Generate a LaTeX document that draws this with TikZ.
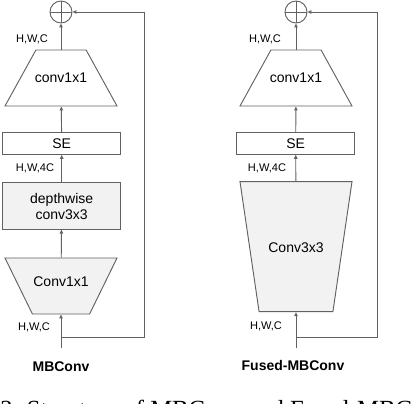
\documentclass[tikz,border=0pt]{standalone}
\usepackage{fontspec}
\setmainfont{Liberation Serif}
\setsansfont{Liberation Sans}
\usetikzlibrary{positioning,arrows.meta,shapes.geometric}

\begin{document}
\begin{tikzpicture}[
  x=0.75pt, y=-0.75pt,
  font=\sffamily\fontsize{10.5}{12}\selectfont,
  line/.style={draw=black!62,line width=0.7pt},
  box/.style={line,minimum width=88.5pt,inner sep=0pt,align=center},
  trap/.style={line,trapezium,trapezium stretches=true,inner sep=1pt,minimum width=84pt},
  sum/.style={line,circle,minimum size=16.5pt,inner sep=0pt,
    path picture={\draw[black!62,line width=0.7pt]
      (path picture bounding box.north) -- (path picture bounding box.south)
      (path picture bounding box.west) -- (path picture bounding box.east);}},
  dim/.style={font=\sffamily\fontsize{8.3}{10}\selectfont,inner sep=0pt},
  title/.style={font=\sffamily\bfseries\fontsize{10.5}{12}\selectfont},
  >={Triangle[open,length=3pt,width=2.6pt]}
]
\useasboundingbox (0,0) rectangle (412,404);
\clip (0,0) rectangle (412,404);
% ---- MBConv ----
\node[sum] (sum1) at (61,12) {};
\node[trap,minimum height=42pt,trapezium left angle=58.4,trapezium right angle=58.4,
  label=center:conv1x1] (up1) at (61,78) {};
\node[box,minimum height=16.2pt] (se1) at (61.7,143.5) {SE};
\node[box,minimum height=34.7pt,fill=black!5] (dw1) at (61.7,206) {depthwise\\conv3x3};
\node[trap,fill=black!5,shape border rotate=180,minimum height=42pt,
  trapezium left angle=64.4,trapezium right angle=64.4,
  label={[yshift=3pt]center:Conv1x1}] (ex1) at (61,286) {};
\coordinate (in1) at (61,348);
\coordinate (j1) at (61,337);
\node[dim] (o1) at (32,39) {H,W,C};
\node[dim] (m1) at (35,168) {H,W,4C};
\node[dim] (i1) at (34,327) {H,W,C};
\node[title] (n1) at (61,367) {MBConv};
\draw[line,->] (in1) -- (ex1);
\draw[line,->] (ex1) -- (dw1);
\draw[line,->] (dw1) -- (se1);
\draw[line,->] (se1) -- (up1);
\draw[line,->] (up1) -- (sum1);
\draw[line,->] (j1) -- ++(83.3,0) |- (sum1);
% ---- Fused-MBConv ----
\node[sum] (sum2) at (296,12) {};
\node[trap,minimum height=42pt,trapezium left angle=58.4,trapezium right angle=58.4,
  label=center:conv1x1] (up2) at (296,78) {};
\node[box,minimum height=16.2pt] (se2) at (295.7,143.5) {SE};
\node[trap,fill=black!5,shape border rotate=180,minimum height=97.5pt,
  trapezium left angle=75.5,trapezium right angle=75.5,
  label={[yshift=-1pt]center:Conv3x3}] (ex2) at (296,246.7) {};
\coordinate (in2) at (296,348);
\coordinate (j2) at (296,337);
\node[dim] (o2) at (265,39) {H,W,C};
\node[dim] (m2) at (267,168) {H,W,4C};
\node[dim] (i2) at (266,326) {H,W,C};
\node[title] (n2) at (293,365) {Fused-MBConv};
\draw[line,->] (in2) -- (ex2);
\draw[line,->] (ex2) -- (se2);
\draw[line,->] (se2) -- (up2);
\draw[line,->] (up2) -- (sum2);
\draw[line,->] (j2) -- ++(81,0) |- (sum2);
% ---- caption ----
\node[font=\rmfamily\fontsize{18.5}{22}\selectfont,anchor=base west,inner sep=0pt]
  (cap) at (0,417) {2. Structure of MBConv and Fused-MBConv.};
\end{tikzpicture}
\end{document}
